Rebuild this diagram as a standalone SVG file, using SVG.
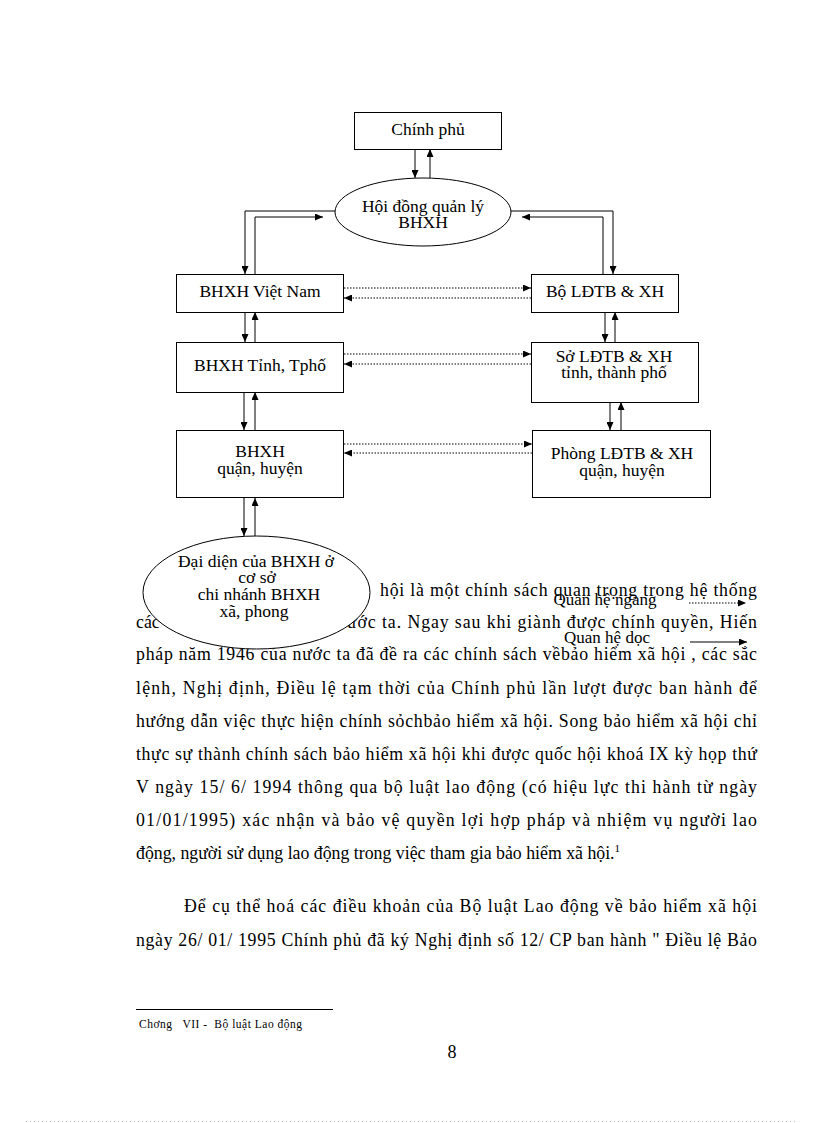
<svg xmlns="http://www.w3.org/2000/svg" width="816" height="1123" viewBox="0 0 816 1123">
<defs>
<style>
.box{fill:#fff;stroke:#000;stroke-width:1}
.t{font-family:"Liberation Serif","Times New Roman",serif;font-size:17.5px;text-anchor:middle;fill:#000}
.b{font-family:"Liberation Serif","Times New Roman",serif;font-size:17.8px;fill:#000}
.c{fill:none;stroke:#000;stroke-width:1}
.d{fill:none;stroke:#000;stroke-width:1;stroke-dasharray:1.5 1.5}
.lg{font-family:"Liberation Serif","Times New Roman",serif;font-size:17px;fill:#000}
</style>
<marker id="ah" markerUnits="userSpaceOnUse" markerWidth="8" markerHeight="7" refX="8" refY="3.5" orient="auto">
<path d="M0,0 L8,3.5 L0,7 z" fill="#000"/>
</marker>
</defs>
<rect width="816" height="1123" fill="#fff"/>

<g id="body-text">
<text class="b" x="380" y="596" textLength="377" lengthAdjust="spacing">hội là một chính sách quan trọng trong hệ thống</text>
<text class="b" x="136" y="628">các</text>
<text class="b" x="347" y="628" textLength="410" lengthAdjust="spacing">ước ta. Ngay sau khi giành được chính quyền, Hiến</text>
<text class="b" x="136" y="660" textLength="621" lengthAdjust="spacing">pháp năm 1946 của nước ta đã đề ra các chính sách vềbảo hiểm xã hội , các sắc</text>
<text class="b" x="136" y="694" textLength="621" lengthAdjust="spacing">lệnh, Nghị định, Điều lệ tạm thời của Chính phủ lần lượt được ban hành để</text>
<text class="b" x="136" y="727" textLength="621" lengthAdjust="spacing">hướng dẫn việc thực hiện chính sỏchbảo hiểm xã hội. Song bảo hiểm xã hội chỉ</text>
<text class="b" x="136" y="760" textLength="621" lengthAdjust="spacing">thực sự thành chính sách bảo hiểm xã hội khi được quốc hội khoá IX kỳ họp thứ</text>
<text class="b" x="136" y="793" textLength="621" lengthAdjust="spacing">V ngày 15/ 6/ 1994 thông qua bộ luật lao động (có hiệu lực thi hành từ ngày</text>
<text class="b" x="136" y="826" textLength="621" lengthAdjust="spacing">01/01/1995) xác nhận và bảo vệ quyền lợi hợp pháp và nhiệm vụ người lao</text>
<text class="b" x="136" y="859">động, người sử dụng lao động trong việc tham gia bảo hiểm xã hội.<tspan font-size="11" dy="-7">1</tspan></text>
<text class="b" x="184" y="912" textLength="573" lengthAdjust="spacing">Để cụ thể hoá các điều khoản của Bộ luật Lao động về bảo hiểm xã hội</text>
<text class="b" x="136" y="946" textLength="621" lengthAdjust="spacing">ngày 26/ 01/ 1995 Chính phủ đã ký Nghị định số 12/ CP ban hành " Điều lệ Bảo</text>
</g>

<g id="footnote">
<line x1="136" y1="1009.5" x2="333" y2="1009.5" stroke="#000" stroke-width="1"/>
<text x="139" y="1028" style="white-space:pre" font-family="Liberation Serif, serif" font-size="11.5" textLength="163" lengthAdjust="spacing">Chơng   VII -  Bộ luật Lao động</text>
<text x="452" y="1058" text-anchor="middle" font-family="Liberation Serif, serif" font-size="18">8</text>
<line x1="26" y1="1121.5" x2="796" y2="1121.5" stroke="#bbb" stroke-width="1" stroke-dasharray="1 3"/>
</g>

<g id="connectors">
<line class="c" x1="415" y1="149" x2="415" y2="178" marker-end="url(#ah)"/>
<line class="c" x1="430" y1="178" x2="430" y2="149" marker-end="url(#ah)"/>
<path class="c" d="M335 211 H245 V274" marker-end="url(#ah)"/>
<path class="c" d="M255 274 V217 H323" marker-end="url(#ah)"/>
<path class="c" d="M511 211 H613 V274" marker-end="url(#ah)"/>
<path class="c" d="M603 274 V217 H522" marker-end="url(#ah)"/>
<line class="c" x1="245" y1="312" x2="245" y2="342" marker-end="url(#ah)"/>
<line class="c" x1="255" y1="342" x2="255" y2="312" marker-end="url(#ah)"/>
<line class="c" x1="605" y1="312" x2="605" y2="342" marker-end="url(#ah)"/>
<line class="c" x1="615" y1="342" x2="615" y2="312" marker-end="url(#ah)"/>
<line class="c" x1="244" y1="392" x2="244" y2="430" marker-end="url(#ah)"/>
<line class="c" x1="255" y1="430" x2="255" y2="392" marker-end="url(#ah)"/>
<line class="c" x1="610" y1="402" x2="610" y2="430" marker-end="url(#ah)"/>
<line class="c" x1="621" y1="430" x2="621" y2="402" marker-end="url(#ah)"/>
<line class="c" x1="244" y1="498" x2="244" y2="536" marker-end="url(#ah)"/>
<line class="c" x1="255" y1="536" x2="255" y2="498" marker-end="url(#ah)"/>
<line class="d" x1="344" y1="288" x2="531" y2="288" marker-end="url(#ah)"/>
<line class="d" x1="531" y1="298" x2="344" y2="298" marker-end="url(#ah)"/>
<line class="d" x1="344" y1="354" x2="531" y2="354" marker-end="url(#ah)"/>
<line class="d" x1="531" y1="364" x2="344" y2="364" marker-end="url(#ah)"/>
<line class="d" x1="344" y1="444" x2="532" y2="444" marker-end="url(#ah)"/>
<line class="d" x1="532" y1="453" x2="344" y2="453" marker-end="url(#ah)"/>
</g>

<g id="chinh-phu">
<rect class="box" x="354.5" y="112.5" width="147" height="37"/>
<text class="t" x="428" y="135">Chính phủ</text>
</g>
<g id="hoi-dong">
<ellipse class="box" cx="423" cy="212" rx="88" ry="34"/>
<text class="t" x="423" y="212">Hội đồng quản lý</text>
<text class="t" x="423" y="228">BHXH</text>
</g>
<g id="bhxh-vn">
<rect class="box" x="176.5" y="274.5" width="167" height="38"/>
<text class="t" x="260" y="297">BHXH Việt Nam</text>
</g>
<g id="bo-ldtb">
<rect class="box" x="531.5" y="274.5" width="147" height="38"/>
<text class="t" x="605" y="297">Bộ LĐTB &amp; XH</text>
</g>
<g id="bhxh-tinh">
<rect class="box" x="176.5" y="342.5" width="167" height="50"/>
<text class="t" x="260" y="371">BHXH Tỉnh, Tphố</text>
</g>
<g id="so-ldtb">
<rect class="box" x="531.5" y="342.5" width="167" height="60"/>
<text class="t" x="614" y="362">Sở LĐTB &amp; XH</text>
<text class="t" x="614" y="378">tỉnh, thành phố</text>
</g>
<g id="bhxh-quan">
<rect class="box" x="176.5" y="430.5" width="167" height="67"/>
<text class="t" x="260" y="457">BHXH</text>
<text class="t" x="260" y="474">quận, huyện</text>
</g>
<g id="phong-ldtb">
<rect class="box" x="532.5" y="430.5" width="178" height="67"/>
<text class="t" x="622" y="459">Phòng LĐTB &amp; XH</text>
<text class="t" x="622" y="476">quận, huyện</text>
</g>
<g id="dai-dien">
<ellipse class="box" cx="256.5" cy="592.5" rx="113.5" ry="56.5"/>
<text class="t" x="256" y="567">Đại diện của BHXH ở</text>
<text class="t" x="257" y="583">cơ sở</text>
<text class="t" x="259" y="600">chi nhánh BHXH</text>
<text class="t" x="254" y="617">xã, phong</text>
</g>
<g id="legend">
<text class="lg" x="605" y="605" text-anchor="middle">Quan hệ ngang</text>
<line class="d" x1="689" y1="603" x2="746" y2="603" marker-end="url(#ah)"/>
<text class="lg" x="607" y="643" text-anchor="middle">Quan hệ dọc</text>
<line class="c" x1="690" y1="642" x2="747" y2="642" marker-end="url(#ah)"/>
</g>
</svg>
